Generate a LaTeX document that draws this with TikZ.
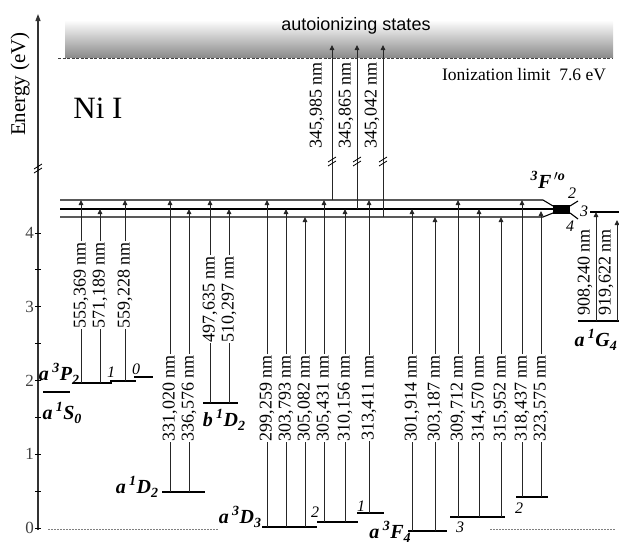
\documentclass[tikz,border=0pt]{standalone}
\usepackage{fontspec}
\setmainfont{Liberation Serif}
\newfontfamily\sansf{Liberation Sans}
\usetikzlibrary{arrows.meta}
\tikzset{
  lev/.style={line width=2.6pt},
  ulev/.style={line width=1.1pt},
  arr/.style={line width=0.9pt, black!85, -{Triangle[length=5pt,width=4.5pt]}},
  wl/.style={rotate=90, fill=white, inner sep=0.6pt, font=\fontsize{18}{18}\selectfont},
  wlb/.style={rotate=90, inner sep=0.6pt, font=\fontsize{18}{18}\selectfont},
  lvlab/.style={font=\fontsize{20}{20}\selectfont\bfseries\itshape, inner sep=0pt},
  jlab/.style={font=\fontsize{16}{16}\selectfont\itshape, inner sep=0pt},
  brk/.style={line width=0.8pt},
}
\newcommand\trans[6]{\draw[arr] (#1,#2) -- (#1,#3); \node[wl] (#6) at (#1,#5) {#4~nm};}
\newcommand\brkmark[2]{\draw[brk] (#1-4,#2+1) -- (#1+4,#2-4); \draw[brk] (#1-4,#2+5) -- (#1+4,#2);}
\newcommand\term[4]{#1\,\textsuperscript{#2}#3\raisebox{-0.5ex}{\fontsize{14}{14}\selectfont #4}}
\begin{document}
\begin{tikzpicture}[x=1pt,y=-1pt]
\useasboundingbox (0,0) rectangle (619,546);
% autoionizing band
\shade[top color=white, bottom color=black!45] (65,20) rectangle (613,57);
\draw[dashed, black!75, line width=0.8pt, dash pattern=on 3pt off 1.5pt] (58,58) -- (613,58);
\node[font=\sansf\fontsize{18}{18}\selectfont] (auto) at (356,26) {autoionizing states};
\node[font=\fontsize{17.5}{17.5}\selectfont] (ionlim) at (524,75) {Ionization limit\ \ 7.6 eV};
\node[font=\fontsize{31}{31}\selectfont] (nii) at (98,108) {Ni I};
% axis
\draw[line width=1.2pt, black!80, -{Triangle[length=7pt,width=5pt]}] (38,530) -- (38,14);
\brkmark{38}{168}
\foreach \e in {0,0.5,...,4.0} {\draw[line width=1pt] (35,528-73.75*\e) -- (41,528-73.75*\e);}
\foreach \e in {0,1,2,3,4} {\node[anchor=east, font=\fontsize{17}{17}\selectfont, text=black!75, inner sep=0pt] (t\e) at (34,528-73.75*\e) {\e};}
\node[rotate=90, font=\fontsize{21}{21}\selectfont] (elab) at (20,84) {Energy (eV)};
% zero reference dotted
\draw[black!50, dash pattern=on 2pt off 1pt, line width=0.7pt] (48,529) -- (218,529);
\draw[black!50, dash pattern=on 2pt off 1pt, line width=0.7pt] (490,529) -- (615,529);
% upper levels 3F^o
\draw[ulev] (60,200) -- (543,200) -- (553,206);
\draw[ulev] (60,209) -- (553,209);
\draw[ulev] (60,217) -- (543,217) -- (553,213);
\fill (553,205) rectangle (570,214);
\draw[ulev] (570,206) -- (578,201);
\draw[ulev] (570,213) -- (578,219);
\draw[ulev] (590,212) -- (619,212);
\node[font=\fontsize{20}{20}\selectfont\bfseries\itshape, inner sep=0pt] (Fo) at (548,180) {\textsuperscript{3}F\textsuperscript{\,$\prime$o}};
\node[jlab] (J2) at (572,193) {2};
\node[jlab] (J3) at (584,211) {3};
\node[jlab] (J4) at (570,226) {4};
% lower levels
\draw[lev] (73,383) -- (112,383);
\draw[lev] (110,381) -- (136,381);
\draw[lev] (134,377) -- (153,377);
\draw[lev] (43,392) -- (70,392);
\draw[lev] (203,403) -- (238,403);
\draw[lev] (162,492) -- (205,492);
\draw[lev] (262,527) -- (317,527);
\draw[lev] (317,522) -- (358,522);
\draw[lev] (357,513) -- (384,513);
\draw[lev] (408,531) -- (447,531);
\draw[lev] (450,517) -- (505,517);
\draw[lev] (516,497) -- (548,497);
\draw[lev] (578,321) -- (619,321);
% level labels
\node[lvlab] (a3P) at (59,374) {\term{a}{3}{P}{2}};
\node[jlab] (p1) at (111,372) {1};
\node[jlab] (p0) at (136,369) {0};
\node[lvlab] (a1S) at (62,413) {\term{a}{1}{S}{0}};
\node[lvlab] (b1D) at (224,420) {\term{b}{1}{D}{2}};
\node[lvlab] (a1D) at (137,487) {\term{a}{1}{D}{2}};
\node[lvlab] (a3D) at (240,517) {\term{a}{3}{D}{3}};
\node[jlab] (d2) at (315,512) {2};
\node[jlab] (d1) at (361,506) {1};
\node[lvlab] (a3F) at (390,532) {\term{a}{3}{F}{4}};
\node[jlab] (f3) at (460,527) {3};
\node[jlab] (f2) at (519,508) {2};
\node[lvlab, anchor=east] (a1G) at (617,340) {\term{a}{1}{G}{4}};
% transitions
\trans{81}{383}{200}{555,369}{285}{w1}
\trans{100}{383}{209}{571,189}{285}{w2}
\trans{125}{381}{200}{559,228}{285}{w3}
\trans{210}{403}{200}{497,635}{299}{w4}
\trans{229}{403}{209}{510,297}{299}{w5}
\trans{170}{492}{200}{331,020}{398}{w6}
\trans{189}{492}{209}{336,576}{398}{w7}
\trans{267}{527}{200}{299,259}{398}{w8}
\trans{286}{527}{209}{303,793}{398}{w9}
\trans{305}{527}{217}{305,082}{398}{w10}
\trans{324}{522}{200}{305,431}{398}{w11}
\trans{345}{522}{209}{310,156}{398}{w12}
\trans{369}{513}{200}{313,411}{398}{w13}
\trans{412}{531}{209}{301,914}{398}{w14}
\trans{435}{531}{217}{303,187}{398}{w15}
\trans{458}{517}{200}{309,712}{398}{w16}
\trans{479}{517}{209}{314,570}{398}{w17}
\trans{501}{517}{217}{315,952}{398}{w18}
\trans{522}{497}{200}{318,437}{398}{w19}
\trans{541}{497}{211}{323,575}{398}{w20}
% a1G4 transitions
\draw[arr] (596,321) -- (596,212);
\draw[arr] (617,321) -- (617,220);
\node[wlb] (w21) at (585,272) {908,240~nm};
\node[wlb] (w22) at (606,272) {919,622~nm};
% ionization transitions
\draw[arr] (332,200) -- (332,45);
\draw[arr] (357,209) -- (357,45);
\draw[arr] (383,217) -- (383,45);
\brkmark{332}{161}
\brkmark{357}{161}
\brkmark{383}{161}
\node[wlb] (i1) at (317,105) {345,985~nm};
\node[wlb] (i2) at (346,105) {345,865~nm};
\node[wlb] (i3) at (372,105) {345,042~nm};
\end{tikzpicture}
\end{document}
